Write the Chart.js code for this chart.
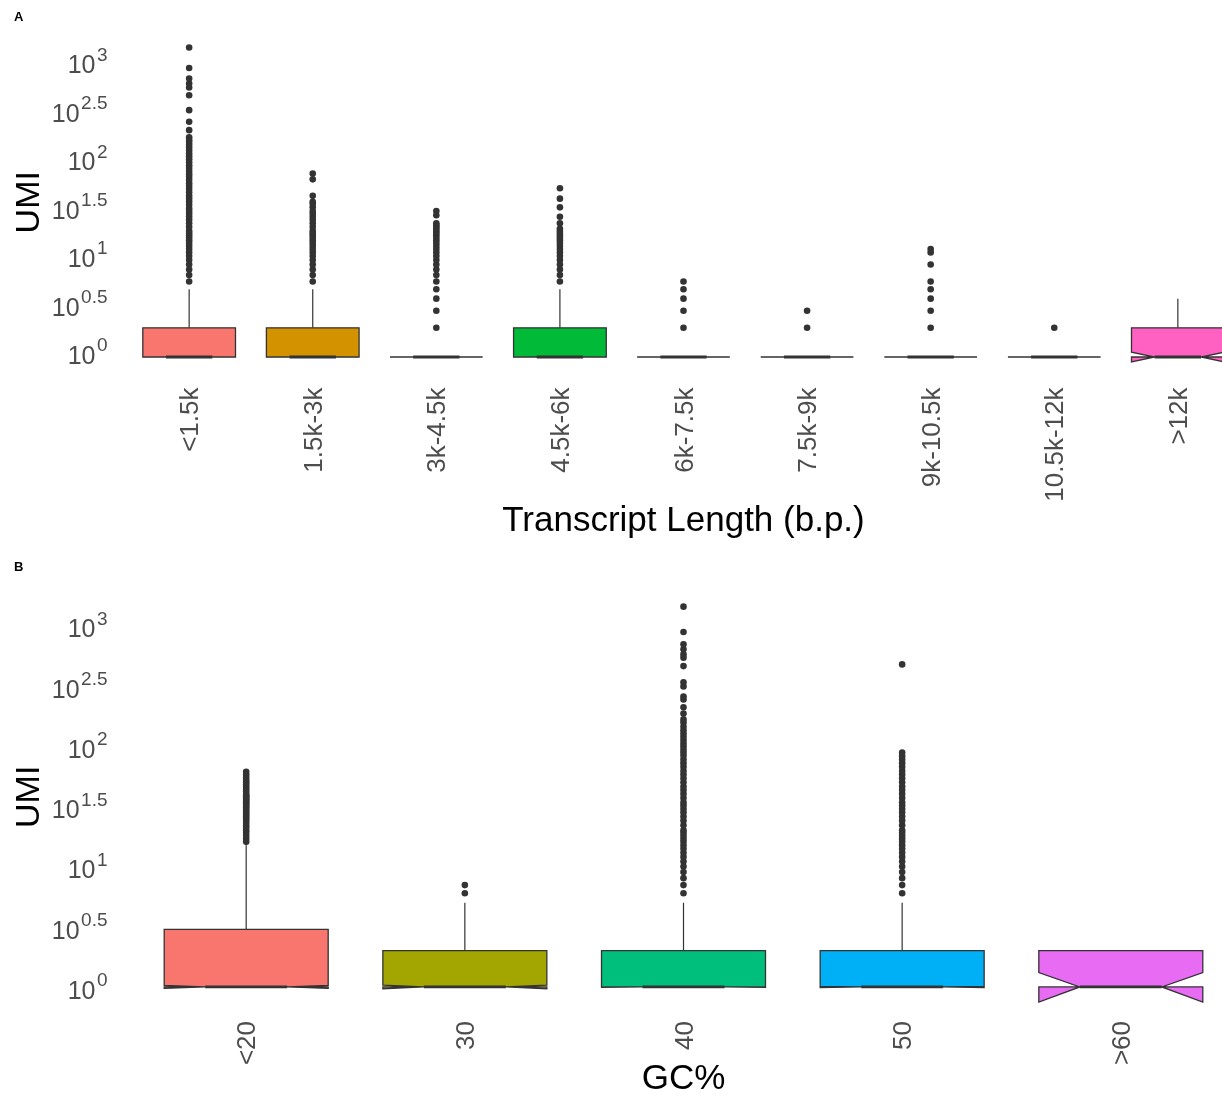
<!DOCTYPE html>
<html lang="en">
<head>
<meta charset="UTF-8">
<title>UMI by transcript length and GC%</title>
<script src="https://cdn.jsdelivr.net/npm/chart.js@4/dist/chart.umd.min.js"></script>
<style>
    body {
        margin: 0;
        background: #ffffff;
        overflow: hidden;
        font-family: 'Liberation Sans', Arial, sans-serif;
    }
    #page {
        position: relative;
        width: 1222px;
        height: 1095px;
        overflow: hidden;
    }
    .panel {
        position: absolute;
        left: 0;
    }
    .tag {
        position: absolute;
        left: 14px;
        font-size: 13px;
        font-weight: bold;
        color: #000000;
        line-height: 13px;
    }
</style>
</head>
<body>
<div id="page">
    <div class="panel" style="top:0"><canvas id="lenChart" width="1262" height="550"></canvas></div>
    <div class="panel" style="top:550px"><canvas id="gcChart" width="1262" height="545"></canvas></div>
    <div class="tag" style="top:10px">A</div>
    <div class="tag" style="top:560px">B</div>
</div>

<script>
    // y axis: UMI on a log10 axis, ticks every half decade
    const yTickExps = [0, 0.5, 1, 1.5, 2, 2.5, 3];
    const yTickLabels = ['0', '0.5', '1', '1.5', '2', '2.5', '3'];

    // panel A - transcript length
    const lenCats = ['<1.5k', '1.5k-3k', '3k-4.5k', '4.5k-6k', '6k-7.5k', '7.5k-9k', '9k-10.5k', '10.5k-12k', '>12k'];
    const lenColors = ['#F8766D', '#D39200', '#93AA00', '#00BA38', '#00C19F', '#00B9E3', '#619CFF', '#DB72FB', '#FF61C3'];
    const lenQ1 = [1, 1, 1, 1, 1, 1, 1, 1, 1];
    const lenMedian = [1, 1, 1, 1, 1, 1, 1, 1, 1];
    const lenQ3 = [2, 2, 1, 2, 1, 1, 1, 1, 2];
    const lenWhiskerLo = [1, 1, 1, 1, 1, 1, 1, 1, 1];
    const lenWhiskerHi = [5, 5, 1, 5, 1, 1, 1, 1, 4];
    const lenNotchLo = [0.995, 0.995, 1, 0.995, 1, 1, 1, 1, 0.891];
    const lenNotchHi = [1.005, 1.005, 1, 1.005, 1, 1, 1, 1, 1.122];
    const lenOutliers = [
        [6, 7, 8, 9, 10, 11, 12, 13, 14, 15, 16, 17, 18, 19, 20, 22, 24, 26, 28, 30, 32, 34, 37, 40, 43, 46, 50, 54, 58, 62,
         67, 72, 77, 83, 89, 95, 102, 110, 118, 126, 135, 145, 155, 165, 173, 185, 219, 267, 352, 502, 603, 663, 747, 960, 1560],
        [6, 7, 8, 9, 10, 11, 12, 13, 14, 15, 16, 17, 18, 19, 20, 22, 24, 26, 28, 30, 32, 35, 38, 40, 46, 68, 78],
        [2, 3, 4, 5, 6, 7, 8, 9, 10, 11, 12, 13, 14, 15, 16, 17, 18, 19, 20, 21, 22, 23, 24, 29, 32],
        [6, 7, 8, 9, 10, 11, 12, 13, 14, 15, 16, 17, 18, 19, 20, 21, 24, 28, 35, 43, 55],
        [2, 3, 4, 5, 6],
        [2, 3],
        [2, 3, 4, 5, 6, 9, 12, 13],
        [2],
        []
    ];

    // panel B - GC content
    const gcCats = ['<20', '30', '40', '50', '>60'];
    const gcColors = ['#F8766D', '#A3A500', '#00BF7D', '#00B0F6', '#E76BF3'];
    const gcQ1 = [1, 1, 1, 1, 1];
    const gcMedian = [1, 1, 1, 1, 1];
    const gcQ3 = [3, 2, 2, 2, 2];
    const gcWhiskerLo = [1, 1, 1, 1, 1];
    const gcWhiskerHi = [15, 5, 5, 5, 2];
    const gcNotchLo = [0.972, 0.966, 0.995, 0.99, 0.75];
    const gcNotchHi = [1.029, 1.035, 1.005, 1.01, 1.315];
    const gcOutliers = [
        [16, 17, 18, 19, 20, 21, 22, 23, 24, 25, 26, 27, 28, 29, 30, 31, 32, 33, 34, 35, 36, 37, 38, 39, 40,
         42, 44, 46, 48, 50, 52, 55, 58, 61],
        [6, 7],
        [6, 7, 8, 9, 10, 11, 12, 13, 14, 15, 16, 17, 18, 19, 20, 22, 24, 26, 28, 30, 32, 34, 37, 40, 43, 46, 50, 54, 58, 62,
         67, 72, 77, 83, 88, 93, 99, 105, 112, 119, 127, 135, 144, 156, 166, 186, 209, 243, 257, 312, 337, 460, 540, 575,
         633, 697, 881, 1432],
        [6, 7, 8, 9, 10, 11, 12, 13, 14, 15, 16, 17, 18, 19, 20, 22, 24, 26, 28, 30, 32, 34, 37, 40, 43, 46, 50, 54, 58, 62,
         67, 72, 77, 82, 88, 475],
        []
    ];

    const FONT = "'Liberation Sans', Arial, sans-serif";
    const INK = '#333333';
    const TICK_GREY = '#4D4D4D';
    Chart.defaults.font.family = FONT;

    // boxes, whiskers and notches drawn with the chart's own scales
    function boxPlugin(box) {
        return {
            id: 'boxes',
            beforeDatasetsDraw(chart) {
                const ctx = chart.ctx;
                const xs = chart.scales.x;
                const ys = chart.scales.y;
                const half = 0.375;
                ctx.save();
                ctx.strokeStyle = INK;
                ctx.lineJoin = 'miter';
                for (let i = 0; i < box.q1.length; i++) {
                    const xc = xs.getPixelForValue(i);
                    const xl = xs.getPixelForValue(i - half);
                    const xr = xs.getPixelForValue(i + half);
                    const inset = (xr - xl) / 4;
                    const yQ1 = ys.getPixelForValue(box.q1[i]);
                    const yQ3 = ys.getPixelForValue(box.q3[i]);
                    const yMed = ys.getPixelForValue(box.median[i]);
                    const yNL = ys.getPixelForValue(box.notchLo[i]);
                    const yNU = ys.getPixelForValue(box.notchHi[i]);
                    const yLo = ys.getPixelForValue(box.whiskerLo[i]);
                    const yHi = ys.getPixelForValue(box.whiskerHi[i]);

                    // whiskers
                    ctx.lineWidth = 1.2;
                    ctx.beginPath();
                    ctx.moveTo(xc, yQ3);
                    ctx.lineTo(xc, yHi);
                    ctx.moveTo(xc, yQ1);
                    ctx.lineTo(xc, yLo);
                    ctx.stroke();

                    // notched box
                    ctx.beginPath();
                    ctx.moveTo(xl, yQ3);
                    ctx.lineTo(xl, yNU);
                    ctx.lineTo(xl + inset, yMed);
                    ctx.lineTo(xl, yNL);
                    ctx.lineTo(xl, yQ1);
                    ctx.lineTo(xr, yQ1);
                    ctx.lineTo(xr, yNL);
                    ctx.lineTo(xr - inset, yMed);
                    ctx.lineTo(xr, yNU);
                    ctx.lineTo(xr, yQ3);
                    ctx.closePath();
                    ctx.fillStyle = box.colors[i];
                    ctx.fill();
                    ctx.lineWidth = 1.3;
                    ctx.stroke();

                    // median
                    ctx.lineWidth = 2.8;
                    ctx.beginPath();
                    ctx.moveTo(xl + inset, yMed);
                    ctx.lineTo(xr - inset, yMed);
                    ctx.stroke();
                }
                ctx.restore();
            }
        };
    }

    // "10" with a raised exponent, right aligned next to the panel
    function powerLabels(drop) {
        return {
            id: 'powerLabels',
            afterDraw(chart) {
                const ctx = chart.ctx;
                const ys = chart.scales.y;
                ctx.save();
                ctx.fillStyle = TICK_GREY;
                ctx.textBaseline = 'alphabetic';
                ctx.textAlign = 'left';
                ys.ticks.forEach((t, k) => {
                    const y = ys.getPixelForValue(t.value) + drop;
                    ctx.font = '25px ' + FONT;
                    const wBase = ctx.measureText('10').width;
                    ctx.font = '19px ' + FONT;
                    const wExp = ctx.measureText(yTickLabels[k]).width;
                    const x0 = 107.5 - wExp - 1.5 - wBase;
                    ctx.font = '25px ' + FONT;
                    ctx.fillText('10', x0, y);
                    ctx.font = '19px ' + FONT;
                    ctx.fillText(yTickLabels[k], x0 + wBase + 1.5, y - 12.6);
                });
                ctx.restore();
            }
        };
    }

    function makePanel(id, cats, box, outliers, yLowExp, yHighExp, topPad, xAxisHeight, xTitle, xTitlePad, labelDrop) {
        const points = [];
        outliers.forEach((vals, i) => vals.forEach(v => points.push({ x: i, y: v })));

        return new Chart(document.getElementById(id), {
            type: 'scatter',
            data: {
                datasets: [{
                    data: points,
                    pointRadius: 3.3,
                    pointBackgroundColor: INK,
                    pointBorderWidth: 0,
                    pointHoverRadius: 3.3
                }]
            },
            options: {
                responsive: false,
                animation: false,
                events: [],
                layout: { padding: { top: topPad, right: 10, bottom: 0, left: 0 } },
                plugins: {
                    legend: { display: false },
                    tooltip: { enabled: false }
                },
                scales: {
                    x: {
                        type: 'linear',
                        min: -0.6,
                        max: cats.length - 0.4,
                        grid: { display: false },
                        border: { display: false },
                        afterBuildTicks: s => { s.ticks = cats.map((c, i) => ({ value: i })); },
                        afterFit: s => { s.height = xAxisHeight; },
                        ticks: {
                            autoSkip: false,
                            minRotation: 90,
                            maxRotation: 90,
                            padding: 7,
                            labelOffset: 2,
                            color: TICK_GREY,
                            font: { size: 26 },
                            callback: v => cats[v]
                        },
                        title: {
                            display: true,
                            text: xTitle,
                            color: '#000000',
                            font: { size: 35, lineHeight: 1 },
                            padding: { top: 0, bottom: xTitlePad }
                        }
                    },
                    y: {
                        type: 'logarithmic',
                        min: Math.pow(10, yLowExp),
                        max: Math.pow(10, yHighExp),
                        grid: { display: false },
                        border: { display: false },
                        afterBuildTicks: s => { s.ticks = yTickExps.map(e => ({ value: Math.pow(10, e) })); },
                        afterFit: s => { s.width = 115; },
                        ticks: { display: false },
                        title: {
                            display: true,
                            text: 'UMI',
                            color: '#000000',
                            font: { size: 34, lineHeight: 1 },
                            padding: { top: 13, bottom: 0 }
                        }
                    }
                }
            },
            plugins: [boxPlugin(box), powerLabels(labelDrop)]
        });
    }

    makePanel('lenChart', lenCats, {
        colors: lenColors, q1: lenQ1, median: lenMedian, q3: lenQ3,
        whiskerLo: lenWhiskerLo, whiskerHi: lenWhiskerHi, notchLo: lenNotchLo, notchHi: lenNotchHi
    }, lenOutliers, -0.16, 3.353, 32, 177.5, 'Transcript Length (b.p.)', 11.5, 7);

    makePanel('gcChart', gcCats, {
        colors: gcColors, q1: gcQ1, median: gcMedian, q3: gcQ3,
        whiskerLo: gcWhiskerLo, whiskerHi: gcWhiskerHi, notchLo: gcNotchLo, notchHi: gcNotchHi
    }, gcOutliers, -0.158, 3.314, 37.6, 89, 'GC%', -1.5, 12);
</script>
</body>
</html>
